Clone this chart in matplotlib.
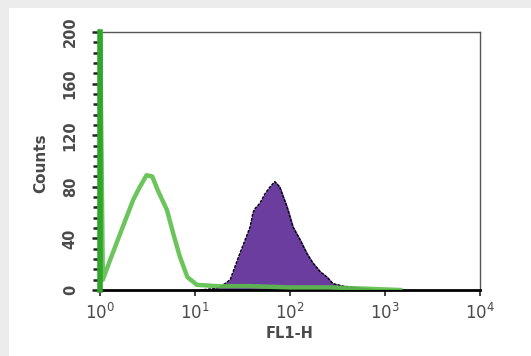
import matplotlib

matplotlib.use("Agg")
import matplotlib.pyplot as plt
import numpy as np
from matplotlib.patches import Rectangle
from matplotlib.ticker import FixedLocator, MultipleLocator

# green (control) histogram: log10 of FL1-H and counts
green_dec = [0.0, 0.0, 0.03, 0.105, 0.24, 0.35, 0.42, 0.49, 0.55, 0.61, 0.705, 0.77, 0.84, 0.92,
             1.02, 1.23, 1.58, 2.0, 2.42, 2.81, 3.16]
green_cnt = [0, 215, 8, 23, 49, 70, 80, 89, 88, 77, 62, 44, 26, 10, 4, 3, 3, 2, 2, 1, 0]

# purple (stained) histogram
purple_dec = [1.05, 1.19, 1.26, 1.37, 1.47, 1.58, 1.61, 1.63, 1.68, 1.74, 1.79, 1.84, 1.89, 1.97,
              2.03, 2.105, 2.18, 2.24, 2.32, 2.39, 2.45, 2.56, 2.66, 2.81, 2.95]
purple_cnt = [0, 1, 2, 8, 28, 49, 60, 63, 67, 75, 80, 84, 80, 64, 49, 39, 28, 21, 14, 10, 5, 3, 2, 1, 0]

yticks = [0, 40, 80, 120, 160, 200]
xticks = [1, 10, 100, 1000, 10000]
xticklabels = [r"$10^0$", r"$10^1$", r"$10^2$", r"$10^3$", r"$10^4$"]

W, H = 531, 356
fig = plt.figure(figsize=(W / 100, H / 100), dpi=100, facecolor="white")
# grey frame strips along the top and left edges
fig.patches.append(Rectangle((0, 0), 9 / W, 1, transform=fig.transFigure,
                             facecolor="#ececec", edgecolor="none", zorder=-10))
fig.patches.append(Rectangle((0, 1 - 8 / H), 1, 8 / H, transform=fig.transFigure,
                             facecolor="#ececec", edgecolor="none", zorder=-10))

ax = fig.add_axes([100 / W, (H - 290) / H, 380 / W, 258 / H])
ax.set_xscale("log")
ax.set_xlim(1, 1e4)
ax.set_ylim(0, 200)

px = 10 ** np.array(purple_dec)
ax.fill_between(px, purple_cnt, color="#6a3d9f", zorder=2)
ax.plot(px, purple_cnt, color="black", lw=1.0, ls=(0, (2, 1)), zorder=3)

gx = 10 ** np.array(green_dec)
ax.plot(gx, green_cnt, color="#5cbf4a", lw=3.2, alpha=0.9, zorder=4, clip_on=True)
ax.plot([1, 1], [0, 200], color="#2fa52a", lw=4, zorder=4, clip_on=False)

ax.xaxis.set_major_locator(FixedLocator(xticks))
ax.set_xticklabels(xticklabels, color="#4a4a4a", fontsize=12)
ax.xaxis.set_minor_locator(FixedLocator([]))
ax.set_yticks(yticks)
ax.set_yticklabels([str(v) for v in yticks], rotation=90, va="center", color="#4a4a4a",
                   fontsize=10.5, fontweight="bold")
ax.yaxis.set_minor_locator(MultipleLocator(8))
ax.tick_params(axis="y", which="major", length=6, width=1.8, direction="out", color="#222222", pad=10)
ax.tick_params(axis="y", which="minor", length=5, width=1.8, direction="out", color="#222222")
ax.tick_params(axis="x", which="major", length=4, width=1.2, direction="out", color="#222222", pad=5)

for s in ["top", "right"]:
    ax.spines[s].set_color("#555555")
    ax.spines[s].set_linewidth(1.0)
ax.spines["bottom"].set_linewidth(2.0)
ax.spines["bottom"].set_linestyle((0, (4, 1)))
ax.spines["left"].set_linewidth(1.0)

ax.set_xlabel("FL1-H", color="#4a4a4a", fontsize=10.5, fontweight="bold")
ax.xaxis.set_label_coords(0.5, -0.14)
ax.set_ylabel("Counts", color="#4a4a4a", fontsize=11, fontweight="bold")
ax.yaxis.set_label_coords(-0.135, 0.49)

fig.savefig("out.png", dpi=100, facecolor=fig.get_facecolor())
